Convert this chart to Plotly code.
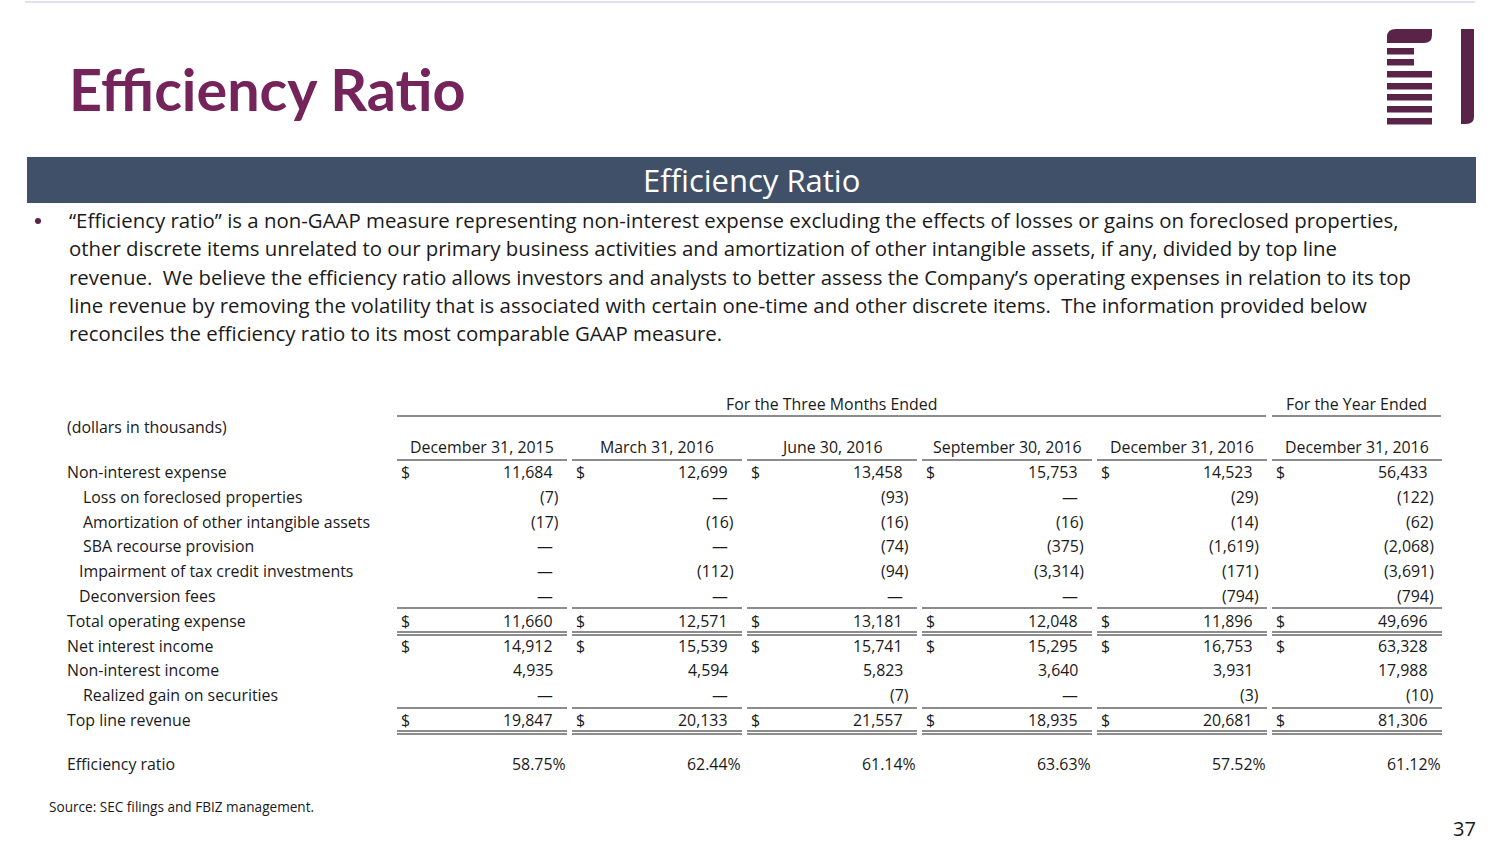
import plotly.graph_objects as go

FONT = "Open Sans"
TITLE_FONT = "Lato"
PURPLE = "#74245A"
LOGO = "#5A2448"
BAR = "#3F5068"
INK = "#1A1A1A"

title = "Efficiency Ratio"
banner = "Efficiency Ratio"
bullet_lines = [
    "“Efficiency ratio” is a non-GAAP measure representing non-interest expense excluding the effects of losses or gains on foreclosed properties,",
    "other discrete items unrelated to our primary business activities and amortization of other intangible assets, if any, divided by top line",
    "revenue.  We believe the efficiency ratio allows investors and analysts to better assess the Company’s operating expenses in relation to its top",
    "line revenue by removing the volatility that is associated with certain one-time and other discrete items.  The information provided below",
    "reconciles the efficiency ratio to its most comparable GAAP measure.",
]

periods = ["December 31, 2015", "March 31, 2016", "June 30, 2016",
           "September 30, 2016", "December 31, 2016", "December 31, 2016"]

row_labels = ["Non-interest expense", "Loss on foreclosed properties",
              "Amortization of other intangible assets", "SBA recourse provision",
              "Impairment of tax credit investments", "Deconversion fees",
              "Total operating expense", "Net interest income", "Non-interest income",
              "Realized gain on securities", "Top line revenue"]
row_indent = [0, 16, 16, 16, 12, 12, 0, 0, 0, 16, 0]
dollar_rows = [0, 6, 7, 10]

non_interest_expense = [11684, 12699, 13458, 15753, 14523, 56433]
loss_foreclosed = [-7, 0, -93, 0, -29, -122]
amortization = [-17, -16, -16, -16, -14, -62]
sba_recourse = [0, 0, -74, -375, -1619, -2068]
impairment_tax_credit = [0, -112, -94, -3314, -171, -3691]
deconversion_fees = [0, 0, 0, 0, -794, -794]
total_operating_expense = [11660, 12571, 13181, 12048, 11896, 49696]
net_interest_income = [14912, 15539, 15741, 15295, 16753, 63328]
non_interest_income = [4935, 4594, 5823, 3640, 3931, 17988]
realized_gain = [0, 0, -7, 0, -3, -10]
top_line_revenue = [19847, 20133, 21557, 18935, 20681, 81306]
efficiency_ratio = [58.75, 62.44, 61.14, 63.63, 57.52, 61.12]

rows = [non_interest_expense, loss_foreclosed, amortization, sba_recourse,
        impairment_tax_credit, deconversion_fees, total_operating_expense,
        net_interest_income, non_interest_income, realized_gain, top_line_revenue]

W, H = 1504, 846
fig = go.Figure()
fig.add_trace(go.Scatter(x=[0, W], y=[0, H], mode="markers", marker=dict(opacity=0),
                         hoverinfo="skip", showlegend=False))

ann = []
shapes = []


def text(x, y, s, size, color=INK, xanchor="left", bold=False, family=FONT):
    if bold:
        s = "<b>" + s + "</b>"
    ann.append(dict(x=x, y=y, xref="x", yref="y", text=s, showarrow=False,
                    xanchor=xanchor, yanchor="middle",
                    font=dict(family=family, size=size, color=color), borderpad=0))


def hline(x0, x1, y, width=1.2):
    shapes.append(dict(type="line", xref="x", yref="y", x0=x0, x1=x1, y0=y, y1=y,
                       line=dict(color=INK, width=width)))


# top rule, title, banner
shapes.append(dict(type="line", x0=25, x1=1475, y0=2, y1=2, xref="x", yref="y",
                   line=dict(color="#DCE3EC", width=2)))
text(68, 88, title, 57.5, PURPLE, bold=True, family=TITLE_FONT)
shapes.append(dict(type="rect", x0=27, x1=1476, y0=157, y1=203, xref="x", yref="y",
                   fillcolor=BAR, line=dict(width=0), layer="below"))
text(751, 180, banner, 31, "white", xanchor="center")

# logo
shapes.append(dict(type="path", xref="x", yref="y", fillcolor=LOGO, line=dict(width=0),
                   path="M1387,43 L1387,37 Q1387,29 1396,29 L1432,29 L1432,35 Q1432,43 1424,43 Z"))
for i, y0 in enumerate([48, 59, 71, 83, 94, 106, 118]):
    x1 = 1414 if i < 2 else 1432
    shapes.append(dict(type="rect", xref="x", yref="y", x0=1387, x1=x1, y0=y0, y1=y0 + 6.5,
                       fillcolor=LOGO, line=dict(width=0)))
shapes.append(dict(type="path", xref="x", yref="y", fillcolor=LOGO, line=dict(width=0),
                   path="M1461,29 L1474,29 L1474,117 Q1474,124 1466,124 L1461,124 Z"))

# bullet paragraph
shapes.append(dict(type="circle", xref="x", yref="y", x0=35, x1=41, y0=218, y1=224,
                   fillcolor="#5A2448", line=dict(width=0)))
for i, line in enumerate(bullet_lines):
    text(68, 220 + i * 28.25, line, 20.4)

# table
col_step = 175
col_left = [397 + col_step * i for i in range(6)]
tsize = 15.9
text(831.5, 404, "For the Three Months Ended", tsize, xanchor="center")
text(1356.5, 404, "For the Year Ended", tsize, xanchor="center")
hline(397, 1266, 416)
hline(1272, 1441, 416)
text(66, 427, "(dollars in thousands)", tsize)
for i, p in enumerate(periods):
    text(col_left[i] + 85, 447, p, tsize, xanchor="center")
    hline(col_left[i], col_left[i] + 170, 460)


def fmt(v):
    if v == 0:
        return "—", 6
    if v < 0:
        return "({:,})".format(-v), 0
    return "{:,}".format(v), 6


row_y = [472 + 24.8 * r for r in range(len(rows))]
for r, vals in enumerate(rows):
    text(66 + row_indent[r], row_y[r], row_labels[r], tsize)
    for c, v in enumerate(vals):
        s, off = fmt(v)
        right = col_left[c] + 163
        text(right - off, row_y[r], s, tsize, xanchor="right")
        if r in dollar_rows:
            text(col_left[c] + 3, row_y[r], "$", tsize)

for c in range(6):
    x0, x1 = col_left[c], col_left[c] + 170
    hline(x0, x1, 608)
    hline(x0, x1, 632, 1)
    hline(x0, x1, 635, 1)
    hline(x0, x1, 708)
    hline(x0, x1, 731, 1)
    hline(x0, x1, 734, 1)

text(66, 764, "Efficiency ratio", tsize)
for c, v in enumerate(efficiency_ratio):
    text(col_left[c] + 170, 764, "{:.2f}%".format(v), tsize, xanchor="right")

text(48, 806, "Source: SEC filings and FBIZ management.", 13.6)
text(1477, 828, "37", 20, xanchor="right")

fig.update_layout(
    width=W, height=H, margin=dict(l=0, r=0, t=0, b=0),
    paper_bgcolor="white", plot_bgcolor="white",
    xaxis=dict(range=[0, W], visible=False, fixedrange=True),
    yaxis=dict(range=[H, 0], visible=False, fixedrange=True),
    annotations=ann, shapes=shapes, showlegend=False,
)
fig.write_html("out.html", config={"displayModeBar": False},
               post_script="document.body.style.margin='0';")
